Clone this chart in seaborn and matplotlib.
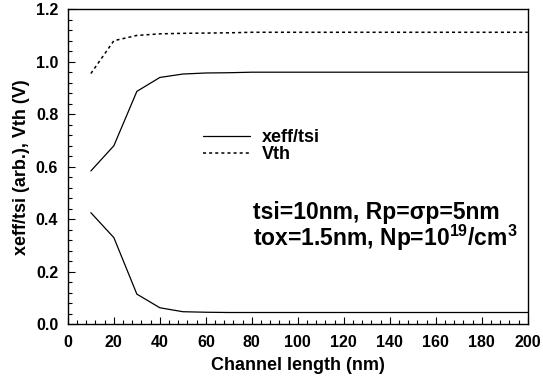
import matplotlib
matplotlib.use("Agg")
import matplotlib.pyplot as plt
import seaborn as sns
import pandas as pd
from matplotlib.ticker import MultipleLocator

channel_length = [10, 20, 30, 40, 50, 60, 70, 80, 100, 120, 140, 160, 180, 200]
xeff_upper = [0.584, 0.68, 0.887, 0.94, 0.953, 0.957, 0.958, 0.96, 0.96, 0.96, 0.96, 0.96, 0.96, 0.96]
xeff_lower = [0.425, 0.33, 0.115, 0.063, 0.048, 0.046, 0.045, 0.045, 0.045, 0.045, 0.045, 0.045, 0.045, 0.045]
vth = [0.955, 1.08, 1.10, 1.106, 1.108, 1.109, 1.11, 1.112, 1.112, 1.112, 1.112, 1.112, 1.112, 1.112]

sns.set_theme(style="white")
plt.rcParams['font.family'] = ['Liberation Sans', 'DejaVu Sans']
plt.rcParams['font.weight'] = 'bold'
plt.rcParams['text.color'] = 'black'
plt.rcParams['axes.labelcolor'] = 'black'
plt.rcParams['xtick.color'] = 'black'
plt.rcParams['ytick.color'] = 'black'
plt.rcParams['mathtext.default'] = 'bf'
plt.rcParams['mathtext.fontset'] = 'custom'
plt.rcParams['mathtext.bf'] = 'Liberation Sans:bold'
plt.rcParams['mathtext.rm'] = 'Liberation Sans'

df = pd.DataFrame({"L": channel_length, "up": xeff_upper, "low": xeff_lower, "vth": vth})

fig = plt.figure(figsize=(5.43, 3.82), dpi=100)
ax = fig.add_axes([0.125, 0.151, 0.847, 0.825])

sns.lineplot(data=df, x="L", y="up", ax=ax, color="black", linewidth=0.9, label="xeff/tsi")
sns.lineplot(data=df, x="L", y="low", ax=ax, color="black", linewidth=0.9, label="_nolegend_")
sns.lineplot(data=df, x="L", y="vth", ax=ax, color="black", linewidth=1.1, linestyle=(0, (2, 2)), label="Vth")

ax.set_xlim(0, 200)
ax.set_ylim(0, 1.2)
ax.xaxis.set_major_locator(MultipleLocator(20))
ax.xaxis.set_minor_locator(MultipleLocator(4))
ax.yaxis.set_major_locator(MultipleLocator(0.2))
ax.yaxis.set_minor_locator(MultipleLocator(0.04))
ax.xaxis.set_major_formatter(matplotlib.ticker.FormatStrFormatter('%d'))
ax.yaxis.set_major_formatter(matplotlib.ticker.FormatStrFormatter('%.1f'))
ax.tick_params(axis='both', which='both', direction='in', top=False, right=False, bottom=True, left=True,
               labelsize=11.5, color='black', labelcolor='black')
ax.tick_params(which='major', length=5, width=0.8)
ax.tick_params(which='minor', length=3, width=0.8)
ax.tick_params(axis='x', which='major', pad=7.5)
ax.tick_params(axis='y', which='major', pad=7)
for lab in ax.get_xticklabels() + ax.get_yticklabels():
    lab.set_fontweight('bold')
for s in ax.spines.values():
    s.set_color('black')
    s.set_linewidth(1.0)

ax.set_xlabel("Channel length (nm)", fontsize=13, fontweight='bold', labelpad=5, color='black')
ax.set_ylabel("xeff/tsi (arb.), Vth (V)", fontsize=13, fontweight='bold', labelpad=4, color='black')

leg = ax.legend(loc='upper left', bbox_to_anchor=(203/543, 1 - 129/382), bbox_transform=fig.transFigure,
                frameon=False, fontsize=13, handlelength=2.6, handletextpad=0.65, labelspacing=0.0,
                borderaxespad=0, borderpad=0)
for t in leg.get_texts():
    t.set_fontweight('bold')
    t.set_color('black')

ax.text(253/543, 1 - 212/382, "tsi=10nm, Rp=σp=5nm", transform=fig.transFigure, fontsize=16.5,
        fontweight='bold', va='center', ha='left', color='black')
ax.text(253/543, 1 - 238/382, "tox=1.5nm, Np=10$^{19}$/cm$^3$", transform=fig.transFigure, fontsize=16.5,
        fontweight='bold', va='center', ha='left', color='black')

fig.savefig("out.png", dpi=100)
